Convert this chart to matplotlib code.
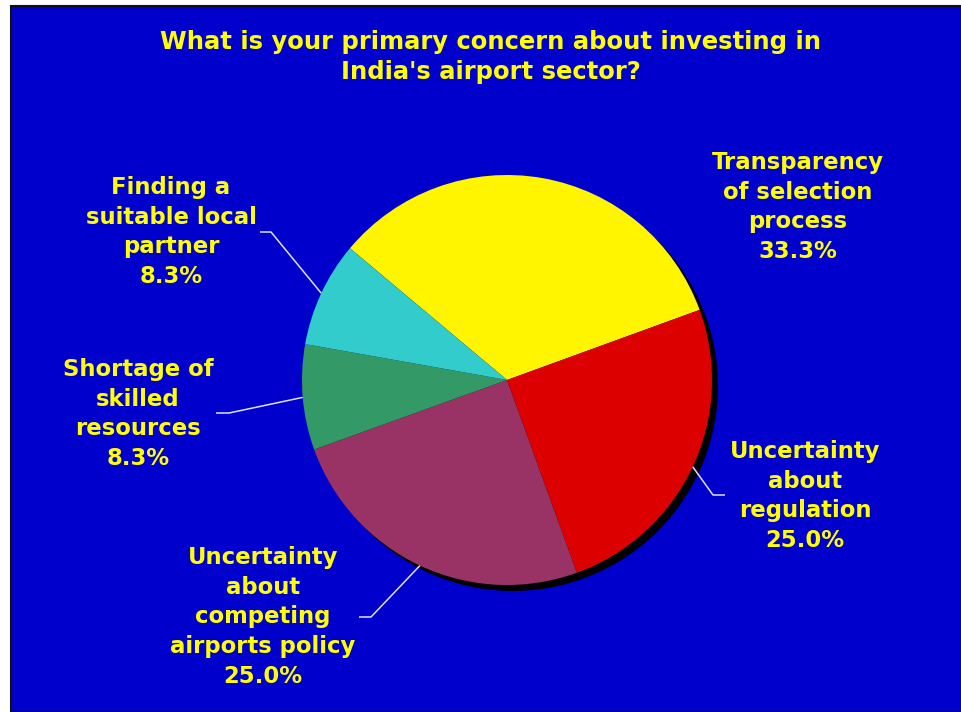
import numpy as np
import matplotlib
matplotlib.use("Agg")
import matplotlib.pyplot as plt
from matplotlib.patches import Rectangle

# Survey responses: share of respondents per concern
categories = [
    "Transparency\nof selection\nprocess",
    "Uncertainty\nabout\nregulation",
    "Uncertainty\nabout\ncompeting\nairports policy",
    "Shortage of\nskilled\nresources",
    "Finding a\nsuitable local\npartner",
]
shares = [33.3, 25.0, 25.0, 8.3, 8.3]
colors = ["#FFF500", "#DD0000", "#993366", "#339966", "#33CCCC"]
title = "What is your primary concern about investing in\nIndia's airport sector?"

W, H = 961, 712
BG = "#0000CC"
TXT = "#FFFF00"

fig = plt.figure(figsize=(W / 100, H / 100), dpi=100)
fig.patch.set_facecolor("white")
ax = fig.add_axes([0, 0, 1, 1])

# Slide panel with dark frame
ax.add_patch(Rectangle((10.5, 0), W, H - 6, facecolor=BG, edgecolor="#111111", lw=1.5, zorder=0))

cx, cy, r = 507, H - 380, 205
start = 140

# Drop shadow
ax.pie(shares, colors=["black"] * len(shares), startangle=start, counterclock=False,
       radius=r, center=(cx + 6, cy - 6), wedgeprops=dict(linewidth=0),
       frame=True)
wedges, _ = ax.pie(shares, colors=colors, startangle=start, counterclock=False,
                   radius=r, center=(cx, cy), wedgeprops=dict(linewidth=0),
                   frame=True)
ax.set_xlim(0, W)
ax.set_ylim(0, H)
ax.set_aspect("equal")
ax.axis("off")

font = dict(color=TXT, fontweight="bold", family="DejaVu Sans",
            ha="center", va="center")

ax.text(491, H - 57, title, fontsize=17.5, linespacing=1.34, **font)

# Label centres and leader lines (elbow x, horizontal end x) per slice
label_pos = [(798, 207), (805, 496), (263, 617), (138, 414), (171, 232)]
leaders = [None, (713, 725), (371, 359), (229, 216), (271, 260)]
elbow_y = [None, 495, 617, 413, 232]

for w, cat, s, (lx, ly), ld, ey in zip(wedges, categories, shares, label_pos, leaders, elbow_y):
    ax.text(lx, H - ly, f"{cat}\n{s:.1f}%", fontsize=16.4, linespacing=1.38, **font)
    if ld is None:
        continue
    mid = np.deg2rad((w.theta1 + w.theta2) / 2)
    px, py = cx + r * np.cos(mid), cy + r * np.sin(mid)
    ax.plot([px, ld[0], ld[1]], [py, H - ey, H - ey], color="#E0E0FF", lw=1.1,
            solid_capstyle="butt", zorder=5)

fig.savefig("out.png", dpi=100, facecolor=fig.get_facecolor())
